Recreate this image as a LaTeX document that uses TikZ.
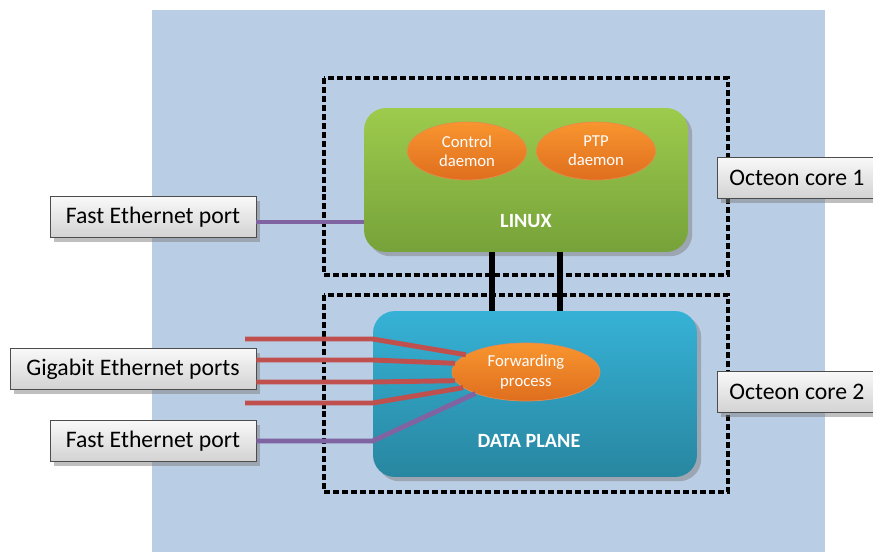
\documentclass[tikz,border=0pt]{standalone}
\usepackage{fontspec}
\setmainfont{Carlito}
\usetikzlibrary{positioning, shapes.geometric, shadows}

\definecolor{bgblue}{HTML}{B9CDE5}
\definecolor{lingreen}{HTML}{9DCB4C}
\definecolor{lingreendk}{HTML}{76A23A}
\definecolor{dpblue}{HTML}{36B2D6}
\definecolor{dpbluedk}{HTML}{2886A0}
\definecolor{procorange}{HTML}{F8952F}
\definecolor{procorangedk}{HTML}{DF6E1E}
\definecolor{gbred}{HTML}{C0504D}
\definecolor{fepurple}{HTML}{8064A2}

\begin{document}
\begin{tikzpicture}[x=0.02cm,y=-0.02cm,
  port/.style={draw=black!70, top color=gray!5, bottom color=gray!35, drop shadow,
    minimum height=0.82cm, inner sep=0pt, font=\fontsize{13.5}{16}\selectfont},
  corebox/.style={draw=black, dash pattern=on 3.4pt off 1.7pt, line width=1.8pt},
  block/.style={rounded corners=0.44cm, drop shadow, inner sep=0pt},
  proc/.style={ellipse, draw=procorangedk!80, top color=procorange, bottom color=procorangedk,
    text=white, align=center, inner sep=0pt, font=\fontsize{9.5}{11}\selectfont},
  gbline/.style={gbred, line width=2.8pt},
  feline/.style={fepurple, line width=2.8pt},
  link/.style={black, line width=3.4pt}]

  \useasboundingbox (0,0) rectangle (873,552);
  \fill[bgblue] (152,10) rectangle (825,552);

  % Define cores
  \draw[corebox] (324,78) rectangle (728,275);
  \draw[corebox] (324,295) rectangle (728,492);

  % Define blocks
  \node[block, top color=lingreen, bottom color=lingreendk, minimum width=6.48cm, minimum height=2.88cm]
    (linux) at (526,180) {};
  \node[block, top color=dpblue, bottom color=dpbluedk, minimum width=6.48cm, minimum height=3.32cm]
    (dp) at (535,394) {};
  \node[text=white, font=\fontsize{11.5}{13}\selectfont\bfseries] (linux_t) at (526,221) {LINUX};
  \node[text=white, font=\fontsize{11.5}{13}\selectfont\bfseries] (dp_t) at (529,441) {DATA PLANE};

  % Define processes
  \node[proc, minimum width=2.38cm, minimum height=1.16cm] (ctrl) at (467,151) {Control\\daemon};
  \node[proc, minimum width=2.38cm, minimum height=1.16cm] (ptp) at (596,151) {PTP\\daemon};
  \node[proc, minimum width=2.96cm, minimum height=1.16cm] (fwd) at (526,372) {Forwarding\\process};

  % Define ports
  \node[port, minimum width=4.12cm] (fe_1) at (153,217) {Fast Ethernet port};
  \node[port, minimum width=4.92cm] (gbe) at (133,369) {Gigabit Ethernet ports};
  \node[port, minimum width=4.12cm] (fe_2) at (153,441) {Fast Ethernet port};
  \node[port, minimum width=3.2cm] (core_1) at (797,178) {Octeon core 1};
  \node[port, minimum width=3.2cm] (core_2) at (797,392) {Octeon core 2};

  \coordinate (gb_top) at (245,339);
  \coordinate (gb_bot) at (245,403);

  % Define links
  \draw[link] ([xshift=-0.68cm]linux.south) -- ([xshift=-0.68cm]linux.south |- dp.north);
  \draw[link] ([xshift=0.68cm]linux.south) -- ([xshift=0.68cm]linux.south |- dp.north);
  \draw[feline] ([yshift=-0.1cm]fe_1.east) -- ([yshift=-0.1cm]fe_1.east -| linux.west);
  \draw[gbline] (gb_top) -- (gb_top -| dp.west) -- (fwd.164);
  \draw[gbline] ([yshift=0.18cm]gbe.east) -- ([yshift=0.18cm]gbe.east -| dp.west) -- (fwd.173);
  \draw[gbline] ([yshift=-0.26cm]gbe.east) -- ([yshift=-0.26cm]gbe.east -| dp.west) -- (fwd.187);
  \draw[gbline] (gb_bot) -- (gb_bot -| dp.west) -- (fwd.194);
  \draw[feline] (fe_2.east) -- (fe_2.east -| dp.west) -- (fwd.203);

\end{tikzpicture}
\end{document}
